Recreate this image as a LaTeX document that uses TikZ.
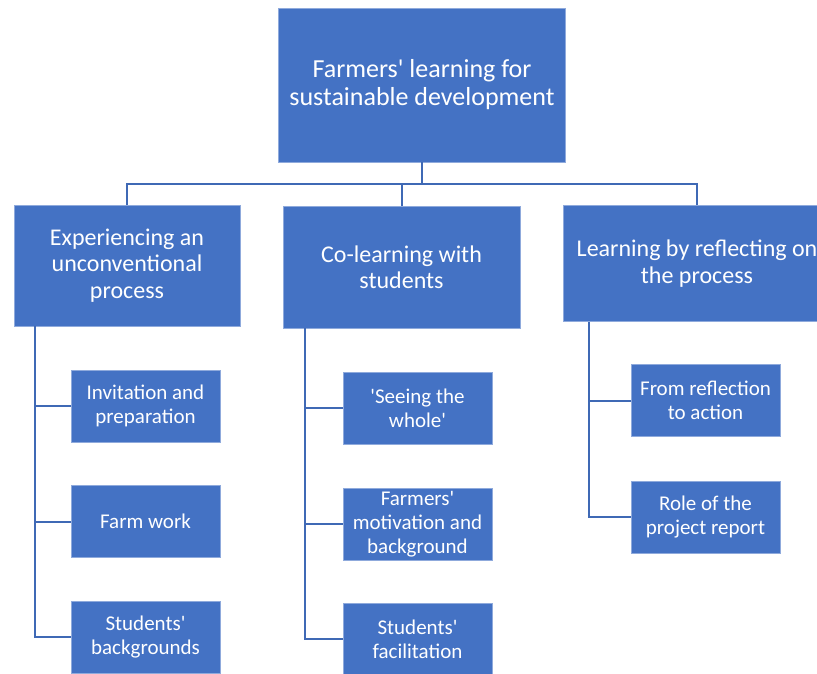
\documentclass[tikz,border=0pt]{standalone}
\usepackage{fontspec}
\setmainfont{Carlito}[Ligatures=TeXOff]
\usepackage{tikz}
\definecolor{boxblue}{HTML}{4472C4}
\definecolor{edgeblue}{HTML}{3F69B5}
\definecolor{rimblue}{HTML}{8FAADC}

\begin{document}
\begin{tikzpicture}[x=1pt,y=-1pt,
    box/.style={fill=boxblue,draw=rimblue,line width=0.8pt,text=white,align=center,inner sep=0pt},
    rootbox/.style={box,minimum width=287pt,minimum height=154pt,font=\fontsize{26}{28}\selectfont},
    topicbox/.style={box,font=\fontsize{24}{26.5}\selectfont},
    leafbox/.style={box,minimum width=149pt,minimum height=72pt,font=\fontsize{21}{24}\selectfont},
    link/.style={draw=edgeblue,line width=2pt}]
  \useasboundingbox (0,0) rectangle (817,673);
  \clip (0,0) rectangle (817,673);
  \node[rootbox] (root) at (422,85) {Farmers' learning for\\sustainable development};
  \node[topicbox,minimum width=226pt,minimum height=121pt] (exper) at (127,265.5) {Experiencing an\\unconventional\\process};
  \node[topicbox,minimum width=237pt,minimum height=122pt] (colearn) at (401.5,267) {Co-learning with\\students};
  \node[topicbox,minimum width=268pt,minimum height=116pt] (reflect) at (697,263.5) {Learning by reflecting on\\the process};
  \node[leafbox] (invite) at (145.5,406) {Invitation and\\preparation};
  \node[leafbox] (farmwork) at (145.5,521.5) {Farm work};
  \node[leafbox] (stuback) at (145.5,637) {Students'\\backgrounds};
  \node[leafbox] (whole) at (417.5,408) {'Seeing the\\whole'};
  \node[leafbox] (motiv) at (417.5,524) {Farmers'\\motivation and\\background};
  \node[leafbox] (stufac) at (417.5,639) {Students'\\facilitation};
  \node[leafbox] (toaction) at (705.5,400.5) {From reflection\\to action};
  \node[leafbox] (report) at (705.5,517) {Role of the\\project report};
  \draw[link] (root.south) -- ++(0,22) coordinate (fork);
  \draw[link] (exper.north) |- (fork) -| (reflect.north);
  \draw[link] (fork -| colearn.north) -- (colearn.north);
  \coordinate (experspine) at ([xshift=21pt]exper.south west);
  \coordinate (colearnspine) at ([xshift=22pt]colearn.south west);
  \coordinate (reflectspine) at ([xshift=26pt]reflect.south west);
  \draw[link] (experspine) |- (stuback.west);
  \draw[link] (colearnspine) |- (stufac.west);
  \draw[link] (reflectspine) |- (report.west);
  \foreach \leaf/\spine in {invite/experspine,farmwork/experspine,whole/colearnspine,motiv/colearnspine,toaction/reflectspine}
    \draw[link] (\leaf.west) -- (\leaf.west -| \spine);
\end{tikzpicture}
\end{document}
